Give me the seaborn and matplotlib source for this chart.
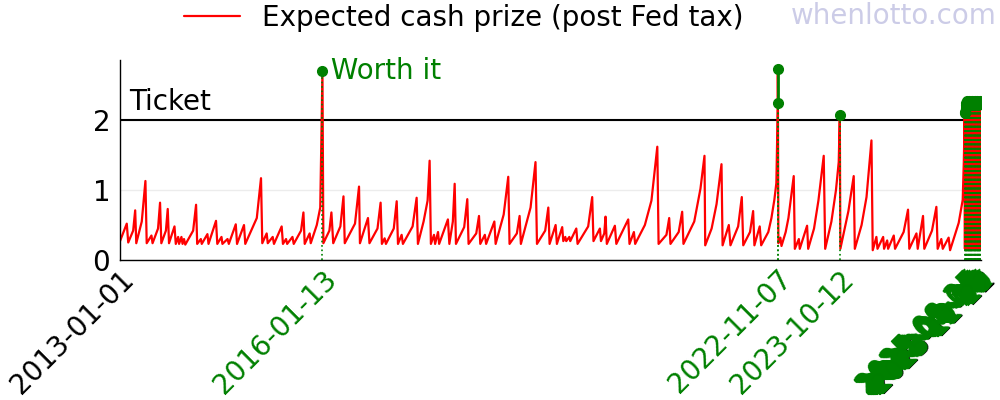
import matplotlib
matplotlib.use("Agg")
import matplotlib.pyplot as plt
import seaborn as sns
import pandas as pd

START = "2013-01-01"
END = "2025-11-22"

# expected cash prize per draw, x = days after 2013-01-01
draw_day = [
    0, 37, 45, 72, 83, 89, 119, 139, 146, 172, 178, 208, 219, 226, 251, 261, 268, 298, 305,
    318, 323, 336, 342, 350, 357, 400, 416, 422, 442, 447, 478, 484, 525, 532, 555, 560,
    588, 595, 633, 640, 678, 685, 748, 771, 778, 802, 808, 835, 842, 884, 891, 908,
    914, 943, 950, 990, 1003, 1010, 1037, 1043, 1076, 1095, 1107, 1112, 1145, 1156, 1166, 1205, 1222, 1229, 1285, 1307,
    1312, 1356, 1364, 1408, 1425, 1432, 1447, 1454, 1497, 1513, 1520, 1540, 1547, 1600, 1622, 1629, 1660, 1682, 1693, 1700,
    1717, 1723, 1739, 1745, 1793, 1801, 1820, 1830, 1837, 1882, 1899, 1906, 1948, 1963, 1970, 1995, 2002, 2047, 2054,
    2098, 2123, 2130, 2170, 2185, 2192, 2245, 2272, 2280, 2325, 2342, 2349, 2382, 2389, 2418, 2424, 2435, 2440,
    2457, 2462, 2495, 2502, 2560, 2582, 2589, 2624, 2630, 2648, 2655, 2662, 2706, 2714, 2779, 2786, 2810, 2817,
    2870, 2906, 2938, 2945, 2988, 3003, 3010, 3055, 3074, 3081, 3140, 3174, 3196, 3200, 3235, 3262, 3289, 3295, 3329, 3338, 3380, 3400,
    3408, 3445, 3462, 3469, 3498, 3506, 3545, 3562, 3578, 3589, 3597, 3597, 3600, 3611, 3617, 3640, 3655, 3684, 3690,
    3712, 3717, 3757, 3763, 3795, 3819, 3848, 3856, 3890, 3915, 3930, 3936, 3939, 3983, 4012, 4018, 4055, 4082, 4109,
    4116, 4136, 4142, 4173, 4178, 4195, 4200, 4231, 4238, 4285, 4309, 4316, 4355, 4362, 4391, 4398, 4440, 4464,
    4471, 4491, 4499, 4531, 4539, 4586, 4608, 4614,
]
prize = [
    0.27, 0.52, 0.25, 0.42, 0.71, 0.24, 0.55, 1.13, 0.24, 0.35, 0.24, 0.45, 0.82, 0.24, 0.42, 0.73, 0.24, 0.48, 0.23,
    0.33, 0.23, 0.33, 0.23, 0.30, 0.22, 0.42, 0.79, 0.23, 0.30, 0.23, 0.37, 0.23, 0.56, 0.23, 0.33, 0.23,
    0.30, 0.23, 0.51, 0.23, 0.50, 0.23, 0.60, 1.17, 0.24, 0.38, 0.24, 0.33, 0.23, 0.48, 0.23, 0.30,
    0.23, 0.33, 0.23, 0.42, 0.68, 0.23, 0.38, 0.24, 0.50, 0.75, 2.70, 0.24, 0.42, 0.68, 0.24, 0.48, 0.91, 0.24, 0.52, 1.05,
    0.24, 0.60, 0.24, 0.45, 0.82, 0.23, 0.31, 0.23, 0.45, 0.84, 0.23, 0.36, 0.23, 0.48, 0.89, 0.23, 0.55, 0.85, 1.42, 0.23,
    0.36, 0.23, 0.40, 0.23, 0.58, 0.23, 0.55, 1.09, 0.23, 0.47, 0.87, 0.23, 0.38, 0.63, 0.23, 0.36, 0.23, 0.55, 0.23,
    0.65, 1.19, 0.23, 0.38, 0.63, 0.23, 0.75, 1.40, 0.23, 0.42, 0.75, 0.23, 0.50, 0.23, 0.47, 0.27, 0.33, 0.27,
    0.33, 0.27, 0.45, 0.23, 0.48, 0.90, 0.27, 0.45, 0.27, 0.38, 0.62, 0.23, 0.49, 0.23, 0.58, 0.23, 0.40, 0.23,
    0.50, 0.85, 1.62, 0.23, 0.36, 0.60, 0.23, 0.40, 0.69, 0.23, 0.55, 1.02, 1.49, 0.21, 0.45, 0.80, 1.37, 0.21, 0.50, 0.21, 0.48, 0.90,
    0.21, 0.40, 0.70, 0.21, 0.48, 0.21, 0.40, 0.60, 0.86, 1.10, 2.24, 2.73, 0.24, 0.32, 0.20, 0.40, 0.60, 1.20, 0.16,
    0.30, 0.16, 0.49, 0.16, 0.45, 0.85, 1.49, 0.16, 0.55, 1.00, 1.40, 2.08, 0.16, 0.70, 1.20, 0.16, 0.50, 0.90, 1.71,
    0.14, 0.33, 0.16, 0.33, 0.16, 0.28, 0.16, 0.35, 0.16, 0.40, 0.72, 0.16, 0.38, 0.16, 0.63, 0.16, 0.42, 0.76,
    0.16, 0.30, 0.16, 0.32, 0.14, 0.53, 0.86, 1.40,
]

# late-2025 stretch: every draw above the ticket price, dropping right after
end_day = [4619, 4621, 4624, 4626, 4628, 4631, 4633, 4635, 4638, 4640, 4642, 4645, 4647,
           4649, 4652, 4654, 4656, 4659, 4661, 4663, 4666, 4668, 4670, 4673, 4675, 4677,
           4680, 4682, 4684, 4687, 4689, 4691, 4694, 4696, 4698, 4701, 4703, 4705]
end_high = [2.10, 2.12, 2.18, 2.22, 2.25, 2.28, 2.20, 2.24, 2.26, 2.22, 2.25, 2.27, 2.23,
            2.25, 2.22, 2.26, 2.24, 2.27, 2.25, 2.23, 2.26, 2.24, 2.22, 2.25, 2.27, 2.24,
            2.26, 2.23, 2.25, 2.27, 2.24, 2.22, 2.26, 2.25, 2.23, 2.27, 2.25, 2.24]
end_low_day = [4620, 4622, 4625, 4627, 4629, 4632, 4634, 4636, 4639, 4641, 4643, 4646, 4648,
               4650, 4653, 4655, 4657, 4660, 4662, 4664, 4667, 4669, 4671, 4674, 4676, 4678,
               4681, 4683, 4685, 4688, 4690, 4692, 4695, 4697, 4699, 4702, 4704, 4706]
end_low = [0.16, 0.15, 0.16, 0.15, 0.16, 0.15, 0.16, 0.15, 0.16, 0.15, 0.16, 0.15, 0.16,
           0.15, 0.16, 0.15, 0.16, 0.15, 0.16, 0.15, 0.16, 0.15, 0.16, 0.15, 0.16, 0.15,
           0.16, 0.15, 0.16, 0.15, 0.16, 0.15, 0.16, 0.15, 0.16, 0.15, 0.16, 0.15]

# earlier "worth it" draws
worth_dates = ["2016-01-13", "2022-11-07", "2022-11-07", "2023-10-12"]
worth_vals = [2.70, 2.24, 2.73, 2.08]
worth_event = [0, 1, 1, 2]

TICKET = 2

t0 = pd.Timestamp(START)
days = list(draw_day)
vals = list(prize)
for d, hi, dl, lo in zip(end_day, end_high, end_low_day, end_low):
    days += [d, dl]
    vals += [hi, lo]
df = pd.DataFrame({"date": t0 + pd.to_timedelta(days, unit="D"), "prize": vals})

w = pd.DataFrame({"date": pd.to_datetime(worth_dates), "val": worth_vals, "event": worth_event})
w_end = pd.DataFrame({"date": t0 + pd.to_timedelta(end_day, unit="D"), "val": end_high, "event": 3})
w = pd.concat([w, w_end], ignore_index=True)

sns.set_style("whitegrid")
plt.rcParams["font.family"] = ["DejaVu Sans"]
plt.rcParams.update({"text.color": "black", "xtick.color": "black",
                     "ytick.color": "black", "axes.labelcolor": "black"})

fig = plt.figure(figsize=(10, 4), dpi=100)
ax = fig.add_axes([0.12, 0.35, 0.861, 0.5])

sns.lineplot(data=df, x="date", y="prize", color="red", lw=1.6, estimator=None, sort=False,
             label="Expected cash prize (post Fed tax)", ax=ax, zorder=2)
ax.axhline(TICKET, color="black", lw=1.5, zorder=1.5)

# worth-it markers
ax.vlines(w["date"], 0, w["val"], colors="green", linestyles=":", lw=1.2, zorder=3)
for _, g in w.groupby("event"):
    ax.plot(g["date"], g["val"], color="green", lw=2, marker="o", ms=7, zorder=4)

ax.text(pd.Timestamp("2013-02-18"), 2.06, "Ticket", fontsize=20, va="bottom", ha="left")
ax.text(pd.Timestamp(worth_dates[0]), worth_vals[0], " Worth it", fontsize=20,
        color="green", va="center", ha="left")

# x ticks: last day first so the worth-it labels sit above it, then first day and worth-it draws
wd = list(dict.fromkeys(w["date"]))
ticks = [pd.Timestamp(END), t0] + wd
ax.set_xticks(ticks)
ax.set_xticklabels([t.strftime("%Y-%m-%d") for t in ticks], fontsize=20)
cols = ["black", "black"] + ["green"] * len(wd)
for lbl, c in zip(ax.get_xticklabels(), cols):
    lbl.set_color(c)
    lbl.set_rotation(45)
    lbl.set_ha("right")
    lbl.set_rotation_mode("anchor")
ax.tick_params(axis="x", pad=0)

ax.set_xlim(t0, pd.Timestamp(END))
ax.set_ylim(0, 2.86)
ax.set_yticks([0, 1, 2])
ax.tick_params(axis="y", labelsize=20, labelcolor="black")
ax.set_xlabel("")
ax.set_ylabel("")
ax.grid(axis="x", visible=False)
ax.grid(axis="y", color="#ececec", lw=1)
sns.despine(ax=ax)
for s in ["left", "bottom"]:
    ax.spines[s].set_color("black")
    ax.spines[s].set_linewidth(1)

leg = ax.legend(loc="center", bbox_to_anchor=(0.464, 0.955), bbox_transform=fig.transFigure,
                frameon=False, fontsize=20)
for t in leg.get_texts():
    t.set_color("black")
fig.text(0.997, 0.995, "whenlotto.com", ha="right", va="top", fontsize=20,
         color="darkblue", alpha=0.2)

fig.savefig("out.png", dpi=100)
plt.close(fig)
